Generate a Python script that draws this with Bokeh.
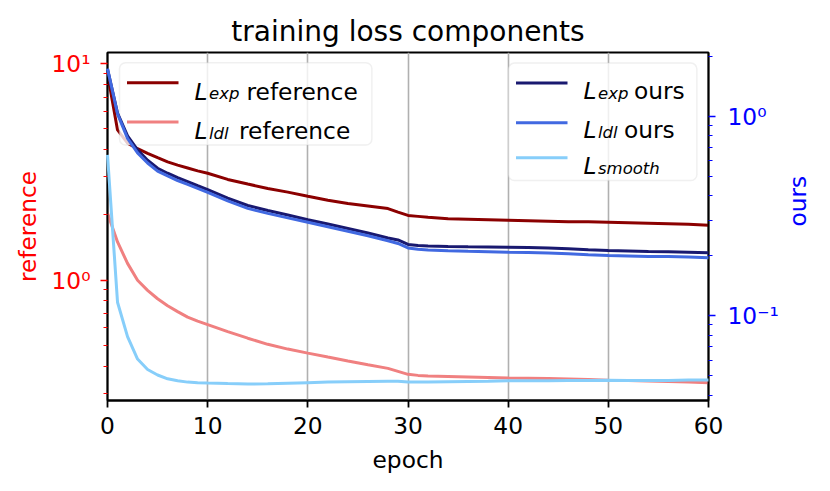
import math
from bokeh.plotting import figure
from bokeh.models import (Range1d, LogScale, LogAxis, FixedTicker, Label,
                          BoxAnnotation, Arrow)
from bokeh.embed import file_html
from bokeh.resources import INLINE

# ---------------- data ----------------
epochs = [0, 1, 2, 3, 4, 5, 6, 7, 8, 9, 10, 12, 14, 16, 18, 20, 22, 24, 26, 28,
          29, 30, 31, 32, 34, 36, 38, 40, 42, 44, 46, 48, 50, 52, 54, 56, 58, 60]

# left axis ("reference")
exp_reference = [9.0, 4.95, 4.3, 4.05, 3.85, 3.68, 3.52, 3.40, 3.30, 3.20, 3.12,
                 2.92, 2.78, 2.65, 2.55, 2.44, 2.34, 2.26, 2.20, 2.14, 2.06, 1.99,
                 1.97, 1.95, 1.92, 1.91, 1.90, 1.89, 1.88, 1.87, 1.86, 1.86, 1.85,
                 1.84, 1.83, 1.82, 1.81, 1.79]
ldl_reference = [2.04, 1.50, 1.194, 0.997, 0.896, 0.819, 0.760, 0.714, 0.673, 0.645,
                 0.622, 0.577, 0.538, 0.504, 0.479, 0.459, 0.440, 0.422, 0.405, 0.390,
                 0.378, 0.366, 0.362, 0.360, 0.358, 0.356, 0.354, 0.352, 0.351, 0.350,
                 0.3486, 0.3468, 0.344, 0.3424, 0.3413, 0.339, 0.337, 0.335]

# right axis ("ours")
exp_ours = [1.732, 1.043, 0.801, 0.681, 0.604, 0.551, 0.520, 0.494, 0.4716, 0.450,
            0.430, 0.390, 0.358, 0.338, 0.321, 0.304, 0.289, 0.2745, 0.2606, 0.246,
            0.2404, 0.2283, 0.2257, 0.2244, 0.2231, 0.2223, 0.2218, 0.2213, 0.2206,
            0.2193, 0.2173, 0.2148, 0.2130, 0.2118, 0.2106, 0.2101, 0.2089, 0.2075]
ldl_ours = [1.742, 1.032, 0.778, 0.658, 0.585, 0.533, 0.504, 0.478, 0.4567, 0.436,
            0.4164, 0.3776, 0.3464, 0.327, 0.3105, 0.2948, 0.2799, 0.2658, 0.2523,
            0.2382, 0.2309, 0.2193, 0.2160, 0.2143, 0.2123, 0.2111, 0.2101, 0.2089,
            0.2082, 0.2070, 0.2051, 0.2028, 0.2011, 0.2000, 0.1988, 0.1984, 0.1972,
            0.1959]
smooth_ours = [0.6435, 0.1171, 0.0787, 0.0607, 0.0538, 0.0505, 0.0483, 0.0472, 0.0465,
               0.0462, 0.0460, 0.0457, 0.0455, 0.0456, 0.0459, 0.0462, 0.0465, 0.0467,
               0.0469, 0.0470, 0.0470, 0.0466, 0.0465, 0.0465, 0.0467, 0.0469, 0.0470,
               0.0472, 0.0473, 0.0473, 0.0474, 0.0474, 0.0475, 0.0474, 0.0474, 0.0474,
               0.0476, 0.0477]

x_ticks = [0, 10, 20, 30, 40, 50, 60]
left_major = [1, 10]
left_minor = [0.3, 0.4, 0.5, 0.6, 0.7, 0.8, 0.9, 2, 3, 4, 5, 6, 7, 8, 9]
left_labels = {1: "10⁰", 10: "10¹"}
right_major = [0.1, 1]
right_minor = [0.04, 0.05, 0.06, 0.07, 0.08, 0.09, 0.2, 0.3, 0.4, 0.5, 0.6, 0.7,
               0.8, 0.9, 2]
right_labels = {0.1: "10⁻¹", 1: "10⁰"}

# ---------------- figure ----------------
FONT = "DejaVu Sans"
TXT_PX = "23.3px"

p = figure(width=829, height=475, x_range=Range1d(0, 60),
           y_range=Range1d(0.277, 11.29), y_axis_type="log",
           output_backend="svg", toolbar_location=None,
           min_border_left=107, min_border_right=121,
           min_border_top=52, min_border_bottom=73)
p.extra_y_ranges = {"ours": Range1d(0.0376, 2.099)}
p.extra_y_scales = {"ours": LogScale()}

p.title.text = "training loss components"
p.title.text_font = FONT
p.title.text_font_size = "28px"
p.title.text_font_style = "normal"
p.title.text_color = "black"
p.title.align = "center"
p.title.standoff = 9

p.outline_line_color = "black"
p.outline_line_width = 1.8
p.background_fill_color = "white"
p.border_fill_color = "white"

# grid
p.xgrid.ticker = FixedTicker(ticks=x_ticks)
p.xgrid.grid_line_color = "#b0b0b0"
p.xgrid.grid_line_width = 1.6
p.ygrid.visible = False

# x axis
xa = p.xaxis[0]
xa.ticker = FixedTicker(ticks=x_ticks)
xa.axis_label = "epoch"
xa.axis_label_text_color = "black"
xa.axis_label_text_font = FONT
xa.axis_label_text_font_size = TXT_PX
xa.axis_label_text_font_style = "normal"
xa.axis_label_standoff = 9
xa.major_label_text_color = "black"
xa.major_label_text_font = FONT
xa.major_label_text_font_size = TXT_PX
xa.major_label_standoff = 9
xa.axis_line_width = 1.8
xa.major_tick_line_width = 1.8
xa.major_tick_in = 0
xa.major_tick_out = 7
xa.minor_tick_line_color = None

# left axis
ya = p.yaxis[0]
ya.ticker = FixedTicker(ticks=left_major, minor_ticks=left_minor)
ya.major_label_overrides = left_labels
ya.axis_label = "reference"
ya.axis_label_text_color = "red"
ya.axis_label_text_font = FONT
ya.axis_label_text_font_size = TXT_PX
ya.axis_label_text_font_style = "normal"
ya.axis_label_standoff = 8
ya.major_label_text_color = "red"
ya.major_label_text_font = FONT
ya.major_label_text_font_size = TXT_PX
ya.major_label_standoff = 10
ya.axis_line_width = 1.8
ya.major_tick_line_color = "red"
ya.minor_tick_line_color = "red"
ya.major_tick_line_width = 1.6
ya.minor_tick_line_width = 1.2
ya.major_tick_in = 0
ya.major_tick_out = 7
ya.minor_tick_in = 0
ya.minor_tick_out = 4

# right axis
ra = LogAxis(y_range_name="ours",
             ticker=FixedTicker(ticks=right_major, minor_ticks=right_minor))
ra.major_label_overrides = right_labels
ra.major_label_text_color = "blue"
ra.major_label_text_font = FONT
ra.major_label_text_font_size = TXT_PX
ra.major_label_standoff = 12
ra.axis_line_width = 1.8
ra.major_tick_line_color = "blue"
ra.minor_tick_line_color = "blue"
ra.major_tick_line_width = 1.6
ra.minor_tick_line_width = 1.2
ra.major_tick_in = 0
ra.major_tick_out = 7
ra.minor_tick_in = 0
ra.minor_tick_out = 4
if "axis_label_orientation" in ra.properties():
    ra.axis_label = "ours"
    ra.axis_label_text_color = "blue"
    ra.axis_label_text_font = FONT
    ra.axis_label_text_font_size = TXT_PX
    ra.axis_label_text_font_style = "normal"
    ra.axis_label_standoff = 16
    ra.axis_label_orientation = math.pi / 2
else:
    p.add_layout(Label(x=706, y=175, x_units="screen", y_units="screen",
                       text="ours", angle=math.pi / 2, text_color="blue",
                       text_font=FONT, text_font_size=TXT_PX,
                       text_align="center", text_baseline="alphabetic"))
p.add_layout(ra, "right")

# ---------------- lines ----------------
LW = 3
p.line(epochs, exp_reference, line_color="#8b0000", line_width=LW)
p.line(epochs, ldl_reference, line_color="#f08080", line_width=LW)
for ys, col in ((exp_ours, "#191970"), (ldl_ours, "#4169e1"),
                (smooth_ours, "#87cefa")):
    r = p.line(epochs, ys, line_color=col, line_width=LW, y_range_name="ours")
    r.level = "overlay"

# ---------------- legends (screen units, frame relative) ----------------
def legend_box(left, right, top, bottom):
    p.add_layout(BoxAnnotation(left=left, right=right, top=top, bottom=bottom,
                               left_units="screen", right_units="screen",
                               top_units="screen", bottom_units="screen",
                               fill_color="white", fill_alpha=0.8,
                               line_color="#cccccc", line_width=1.5,
                               border_radius=6))

def sample(x0, x1, y, color):
    p.add_layout(Arrow(end=None, x_start=x0, y_start=y, x_end=x1, y_end=y,
                       start_units="screen", end_units="screen",
                       line_color=color, line_width=LW))

def txt(x, y, s, size, style):
    p.add_layout(Label(x=x, y=y, x_units="screen", y_units="screen", text=s,
                       text_font=FONT, text_font_size=size,
                       text_font_style=style, text_baseline="alphabetic",
                       text_align="left", text_color="black"))

def entry(xs, ybase, line_y, color, sub, rest, rest_x):
    sample(xs, xs + 51.5, line_y, color)
    txt(xs + 67.5, ybase, "L", TXT_PX, "italic")
    txt(xs + 82, ybase - 2.5, sub, "16.5px", "italic")
    if rest:
        txt(rest_x, ybase, rest, TXT_PX, "normal")

# left legend
legend_box(12, 264.4, 337.7, 255.5)
entry(19.5, 309.4, 317.7, "#8b0000", "exp", "reference", 139.0)
entry(19.5, 270.0, 278.4, "#f08080", "ldl", "reference", 131.5)

# right legend
legend_box(401, 589.4, 337.4, 220)
entry(408.5, 310.0, 317.4, "#191970", "exp", "ours", 526.4)
entry(408.5, 270.7, 277.7, "#4169e1", "ldl", "ours", 516.4)
entry(408.5, 235.0, 242.7, "#87cefa", "smooth", None, 0)

open("out.html", "w").write(file_html(p, INLINE))
